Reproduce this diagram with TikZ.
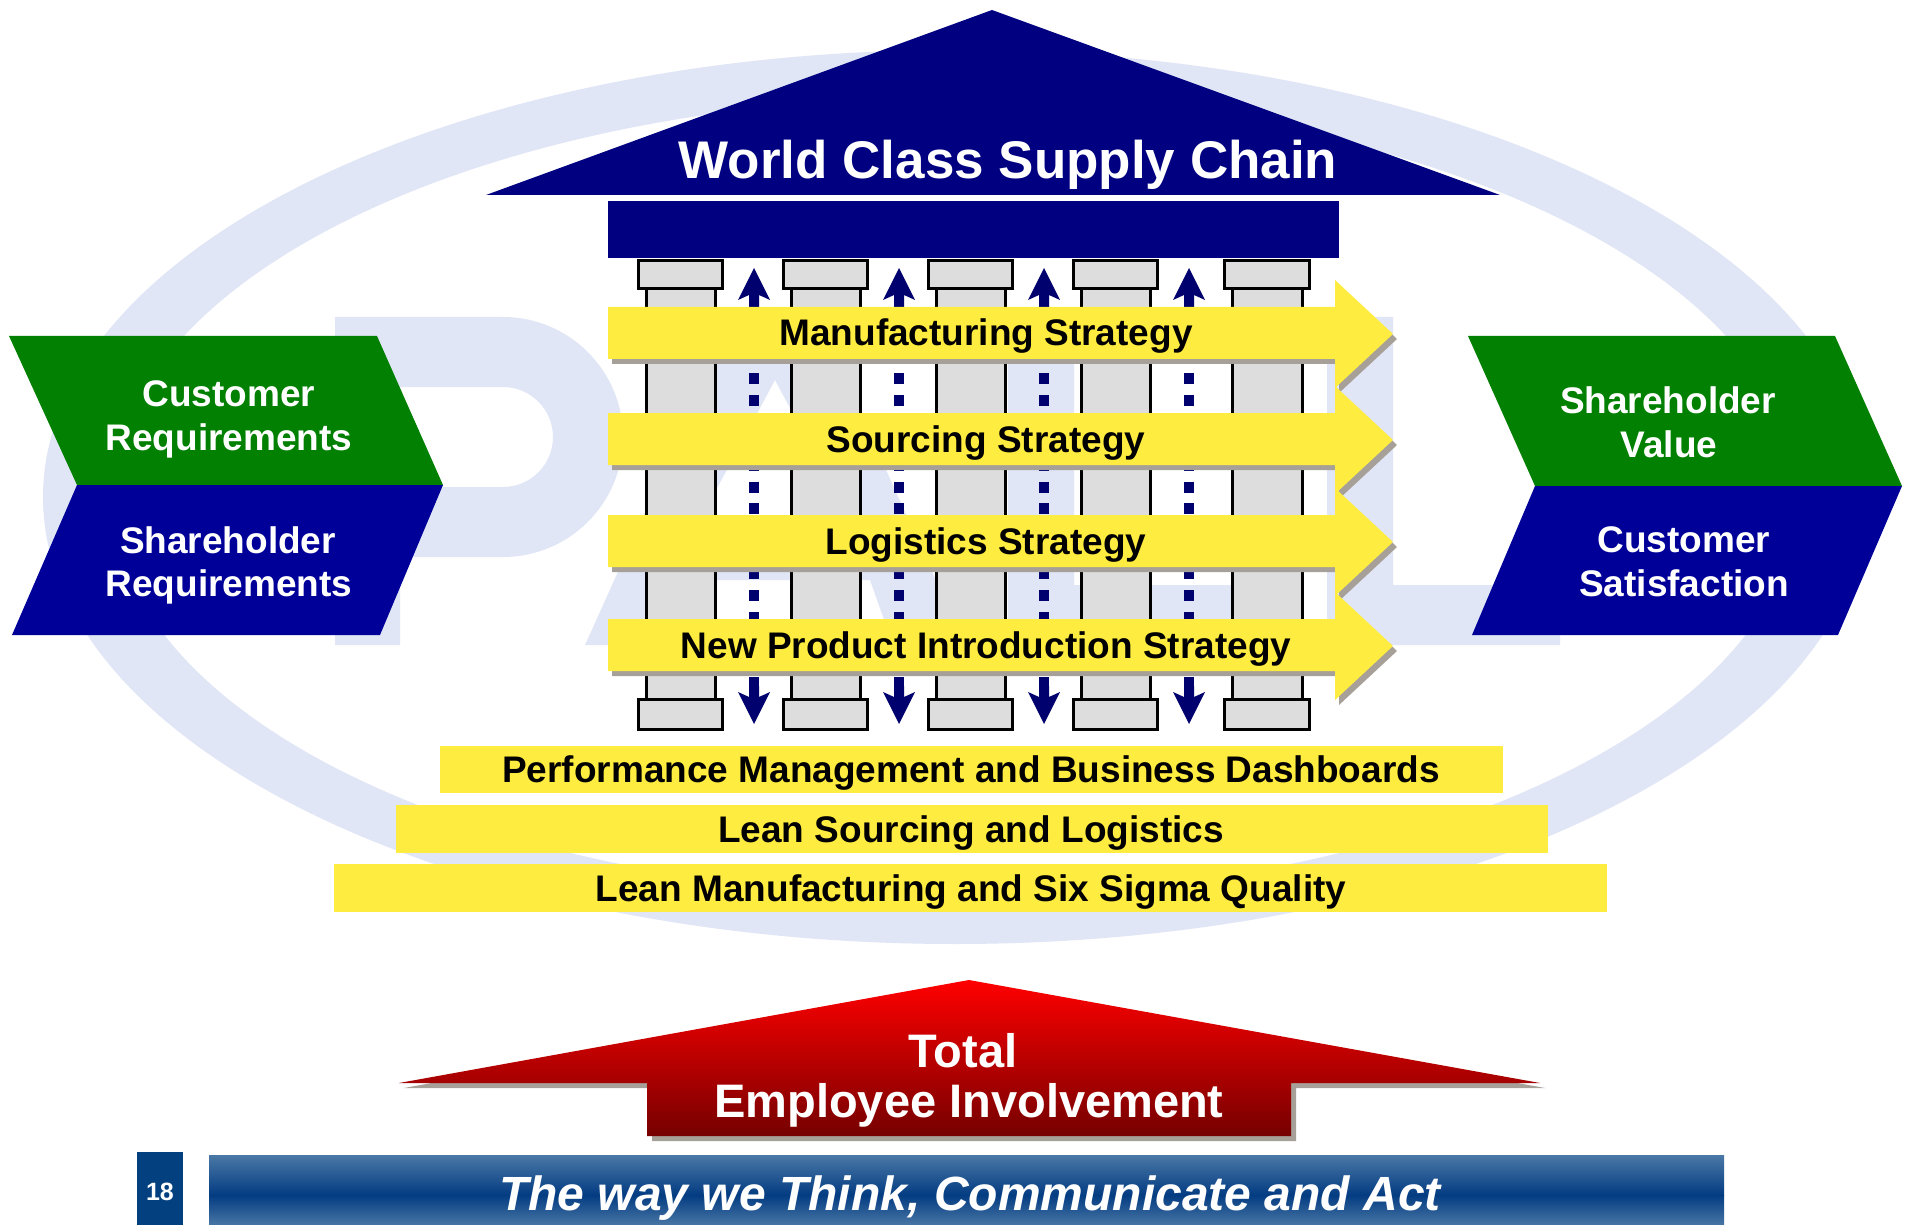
\documentclass[tikz,border=0pt]{standalone}
\usepackage{fontspec}
\setmainfont{Liberation Sans}
\definecolor{navy}{RGB}{0,0,128}
\definecolor{chgreen}{RGB}{2,128,2}
\definecolor{chblue}{RGB}{0,0,153}
\definecolor{bandyellow}{RGB}{255,236,64}
\definecolor{pillargray}{RGB}{221,221,221}
\definecolor{shadowgray}{RGB}{166,160,152}
\definecolor{arrowblue}{RGB}{0,0,110}
\definecolor{wmark}{RGB}{224,230,245}
\definecolor{barmid}{RGB}{4,60,130}
\definecolor{barlight}{RGB}{74,120,166}
\definecolor{boxblue}{RGB}{3,64,128}
\definecolor{redtop}{RGB}{255,0,0}
\definecolor{redbot}{RGB}{118,0,0}
\begin{document}
\begin{tikzpicture}[x=0.5pt,y=-0.5pt,
  bandtext/.style={font=\fontsize{18.5}{22}\selectfont\bfseries, text=black, anchor=base, inner sep=0pt},
  whitetext/.style={font=\fontsize{18.5}{22}\selectfont\bfseries, text=white, anchor=base, inner sep=0pt},
  pillarpart/.style={fill=pillargray, draw=black, line width=1.5pt},
  wmfill/.style={fill=wmark, even odd rule},
  dotline/.style={draw=arrowblue, line width=5pt, dash pattern=on 5.5pt off 5.35pt},
  bandshape/.style={fill=bandyellow},
  bandshadow/.style={fill=shadowgray}]
\useasboundingbox (0,0) rectangle (1907,1225);
\fill[white] (0,0) rectangle (1907,1225);

% watermark: ring and letters
\fill[wmfill] (955,497) ellipse [x radius=912, y radius=447]
              (955,497) ellipse [x radius=842, y radius=400];
% P
\fill[wmfill] (335,317) -- (503,317) arc[start angle=-90, end angle=90, radius=120] -- (400,557) -- (400,645) -- (335,645) -- cycle
              (400,387) -- (503,387) arc[start angle=-90, end angle=90, radius=50] -- (400,487) -- cycle;
% A
\fill[wmfill] (585,645) -- (733,317) -- (817,317) -- (965,645) -- (893,645) -- (870,580) -- (680,580) -- (657,645) -- cycle
              (700,520) -- (775,380) -- (850,520) -- cycle;
% L L
\fill[wmark] (1008,317) -- (1074,317) -- (1074,585) -- (1232,585) -- (1232,645) -- (1008,645) -- cycle;
\fill[wmark] (1327,317) -- (1393,317) -- (1393,585) -- (1560,585) -- (1560,645) -- (1327,645) -- cycle;

% roof and lintel
\fill[navy] (486,195) -- (992,10) -- (1500,195) -- cycle;
\fill[navy] (608,201) rectangle (1339,258);
\node[font=\fontsize{26.5}{30}\selectfont\bfseries, text=white, anchor=base, inner sep=0pt] (title) at (1008,179) {World Class Supply Chain};

% pillars
\foreach \cl/\cr in {638/722, 783/867, 928/1012, 1073/1157, 1224/1309}{
  \draw[pillarpart] (\cl+8,289) rectangle (\cr-7,699);
  \draw[pillarpart] (\cl,261) rectangle (\cr,289);
  \draw[pillarpart] (\cl,699) rectangle (\cr,729);
}

% dotted arrows
\foreach \x in {754,899,1044,1189}{
  \draw[dotline] (\x,308) -- (\x,688);
  \fill[arrowblue] (\x,268) -- (\x+16,300) -- (\x+5,295) -- (\x+5,308) -- (\x-5,308) -- (\x-5,295) -- (\x-16,300) -- cycle;
  \fill[arrowblue] (\x,724) -- (\x+16,692) -- (\x+5,697) -- (\x+5,686) -- (\x-5,686) -- (\x-5,697) -- (\x-16,692) -- cycle;
}

% strategy bands
\foreach \c in {333,439,541,645}{
  \fill[bandshadow] (612,\c-21) -- (1339,\c-21) -- (1339,\c-48) -- (1397,\c+6) -- (1339,\c+60) -- (1339,\c+31) -- (612,\c+31) -- cycle;
  \fill[bandshape] (608,\c-26) -- (1335,\c-26) -- (1335,\c-53) -- (1393,\c+1) -- (1335,\c+55) -- (1335,\c+26) -- (608,\c+26) -- cycle;
}
\node[bandtext] (manu) at (986,346) {Manufacturing Strategy};
\node[bandtext] (sour) at (986,452) {Sourcing Strategy};
\node[bandtext] (logi) at (986,554) {Logistics Strategy};
\node[bandtext] (npi) at (986,658) {New Product Introduction Strategy};

% foundation bars
\fill[bandyellow] (440,746) rectangle (1503,793);
\fill[bandyellow] (396,805) rectangle (1548,853);
\fill[bandyellow] (334,864) rectangle (1607,912);
\node[bandtext] (perf) at (971,782) {Performance Management and Business Dashboards};
\node[bandtext] (lsl) at (971,842) {Lean Sourcing and Logistics};
\node[bandtext] (lmq) at (971,901) {Lean Manufacturing and Six Sigma Quality};

% left chevrons
\fill[chgreen] (9,336) -- (377,336) -- (443,485) -- (77,485) -- cycle;
\fill[chblue] (77,485) -- (443,485) -- (380,635) -- (12,635) -- cycle;
\node[whitetext] (lc1) at (229,407) {Customer};
\node[whitetext] (lc2) at (229,450) {Requirements};
\node[whitetext] (ls1) at (228,553) {Shareholder};
\node[whitetext] (ls2) at (229,596) {Requirements};

% right chevrons
\fill[chgreen] (1468,336) -- (1835,336) -- (1902,486) -- (1535,486) -- cycle;
\fill[chblue] (1535,486) -- (1902,486) -- (1838,635) -- (1472,635) -- cycle;
\node[whitetext] (rs1) at (1668,414) {Shareholder};
\node[whitetext] (rs2) at (1669,458) {Value};
\node[whitetext] (rc1) at (1684,552) {Customer};
\node[whitetext] (rc2) at (1684,596) {Satisfaction};

% employee involvement arrow
\fill[shadowgray] (974,985) -- (1545,1088) -- (1296,1088) -- (1296,1141) -- (652,1141) -- (652,1088) -- (404,1088) -- cycle;
\shade[top color=redtop, bottom color=redbot] (969,980) -- (1540,1083) -- (1291,1083) -- (1291,1136) -- (647,1136) -- (647,1083) -- (399,1083) -- cycle;
\node[font=\fontsize{23.5}{26}\selectfont\bfseries, text=white, anchor=base, inner sep=0pt] (total) at (963,1067) {Total};
\node[font=\fontsize{23.5}{26}\selectfont\bfseries, text=white, anchor=base, inner sep=0pt] (empl) at (969,1117) {Employee Involvement};

% bottom bar
\shade[top color=barlight, bottom color=barmid] (209,1155) rectangle (1724,1195);
\shade[top color=barmid, bottom color=barlight] (209,1195) rectangle (1724,1226);
\node[font=\fontsize{24}{28}\selectfont\bfseries\itshape, text=white, anchor=base, inner sep=0pt] (slogan) at (970,1210) {The way we Think, Communicate and Act};
\fill[boxblue] (137,1152) rectangle (183,1226);
\node[font=\fontsize{12.5}{14}\selectfont\bfseries, text=white, anchor=base, inner sep=0pt] (page) at (160,1200) {18};
\end{tikzpicture}
\end{document}
